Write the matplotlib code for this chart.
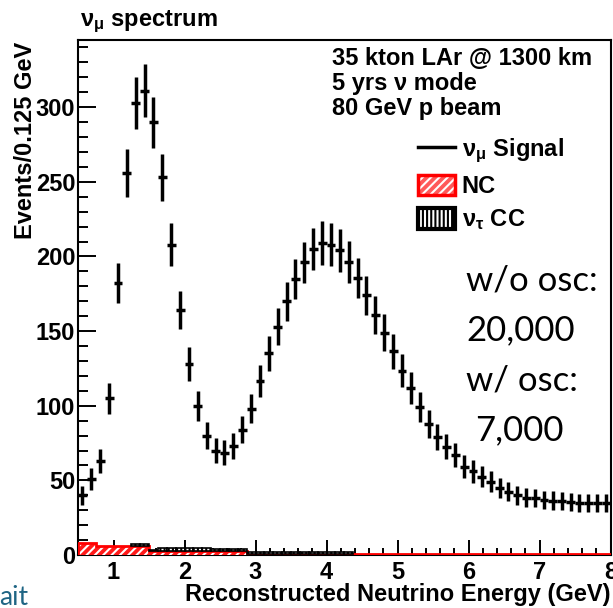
#!/usr/bin/env python3

import numpy as np
import matplotlib
matplotlib.use("Agg")
import matplotlib.pyplot as plt
from matplotlib.lines import Line2D
from matplotlib.patches import Patch


# reconstructed energy binning (GeV)
e_min, e_max, bin_width = 0.5, 8.0, 0.125

# nu_mu CC signal, events per 0.125 GeV bin
signal = [40, 51, 63, 105, 182, 256, 303, 311, 290, 253,
          208, 164, 128, 100, 80, 70, 68.5, 73, 84, 98,
          116.5, 135, 153, 170, 185, 196, 205, 209, 208, 204,
          196.5, 185.5, 174, 161, 149, 136.5, 123.5, 112, 99, 88,
          79, 72.5, 67, 59, 56, 52.5, 49, 45, 42.5, 40,
          38.5, 38, 37, 36.5, 36, 35.5, 35, 35, 35, 35]

# backgrounds
nc = [8, 8, 6, 6, 6, 6, 6, 6, 3, 3,
      3, 3, 3, 3, 3, 3, 3, 3, 3, 1,
      1, 1, 1, 1, 1, 1, 1, 1, 1, 1,
      1, 1, 1, 1, 1, 1, 1, 1, 1, 1,
      1, 1, 1, 1, 1, 1, 1, 1, 1, 1,
      1, 1, 1, 1, 1, 1, 1, 1, 1, 1]
nutau_cc = [0, 0, 0, 0, 0, 0, 1.5, 1.5, 0.5, 1.5,
            1.5, 1.5, 1.5, 1.5, 1.5, 0.8, 0.8, 0.8, 0.8, 1,
            1, 1, 1, 1, 1, 1, 1, 1, 1, 1,
            1, 0, 0, 0, 0, 0, 0, 0, 0, 0,
            0, 0, 0, 0, 0, 0, 0, 0, 0, 0,
            0, 0, 0, 0, 0, 0, 0, 0, 0, 0]

info_lines = ["35 kton LAr @ 1300 km", "5 yrs \u03bd mode", "80 GeV p beam"]
legend_labels = ["\u03bd$_{\\mathrm{\\mu}}$ Signal", "NC",
                 "\u03bd$_{\\mathrm{\\tau}}$ CC"]
osc_lines = [("w/o osc:", 466, 290), ("20,000", 466, 340),
             ("w/ osc:", 466, 390), ("7,000", 475, 440)]

W, H = 613, 608


def fx(x):
    return x / W


def fy(y):
    return 1 - y / H


plt.rcParams["font.family"] = ["Liberation Sans", "DejaVu Sans"]
plt.rcParams["font.weight"] = "bold"
plt.rcParams["mathtext.fontset"] = "custom"
plt.rcParams["mathtext.rm"] = "Liberation Sans"
plt.rcParams["mathtext.it"] = "Liberation Sans:italic"
plt.rcParams["mathtext.bf"] = "Liberation Sans:bold"
plt.rcParams["hatch.linewidth"] = 1.5

edges = np.arange(e_min, e_max + bin_width / 2, bin_width)
centers = 0.5 * (edges[:-1] + edges[1:])
signal = np.array(signal, dtype=float)
nc = np.array(nc, dtype=float)
nutau_cc = np.array(nutau_cc, dtype=float)

fig = plt.figure(figsize=(W / 100, H / 100), dpi=100)
ax = fig.add_axes([fx(78), fy(555), fx(610.5) - fx(78), fy(40) - fy(555)])

# stacked backgrounds: NC (red hatched) under nu_tau CC
ax.stairs(nc, edges, fill=True, facecolor="#ff1a1a", edgecolor="white",
          hatch="////", linewidth=0, zorder=3)
ax.stairs(nc, edges, color="red", linewidth=2, zorder=3)
mask = nutau_cc > 0
ax.bar(centers[mask], nutau_cc[mask], width=bin_width, bottom=nc[mask],
       facecolor="white", edgecolor="black", hatch="||||", linewidth=1.2,
       zorder=3)

# signal with poisson errors
ax.errorbar(centers, signal, xerr=bin_width / 2, yerr=np.sqrt(signal),
            fmt="none", ecolor="black", elinewidth=2.5, capsize=0, zorder=4)

ax.set_xlim(e_min, e_max)
ax.set_ylim(0, 345)
ax.set_xticks(range(1, 9))
ax.set_xticks(np.arange(0.6, 8.0, 0.2), minor=True)
ax.set_yticks(range(0, 301, 50))
ax.set_yticks(range(0, 341, 10), minor=True)
ax.tick_params(axis="both", which="both", direction="in", width=1.4,
               labelsize=17, top=False, right=False)
ax.tick_params(axis="y", which="major", length=13, pad=2)
ax.tick_params(axis="y", which="minor", length=7)
ax.tick_params(axis="x", which="major", length=11, pad=4)
ax.tick_params(axis="x", which="minor", length=5)
for spine in ax.spines.values():
    spine.set_linewidth(1.5)

fig.text(fx(80), fy(26), "\u03bd$_{\\mathrm{\\mu}}$ spectrum", fontsize=17,
         va="baseline", ha="left")
fig.text(fx(26), fy(42), "Events/0.125 GeV", fontsize=17, rotation=90,
         ha="center", va="top")
fig.text(fx(185), fy(601), "Reconstructed Neutrino Energy (GeV)",
         fontsize=17, ha="left", va="baseline")

for i, line in enumerate(info_lines):
    fig.text(fx(332), fy(65 + 25 * i), line, fontsize=17, ha="left",
             va="baseline")

handles = [
    Line2D([], [], color="black", linewidth=2.5),
    (Patch(facecolor="#ff5a5a", edgecolor="white", hatch="////", linewidth=0),
     Patch(facecolor="none", edgecolor="red", linewidth=2.5)),
    (Patch(facecolor="white", edgecolor="black", hatch="||||", linewidth=0),
     Patch(facecolor="none", edgecolor="black", linewidth=3)),
]
fig.legend(handles, legend_labels, loc="upper left",
           bbox_to_anchor=(fx(418), fy(137)), frameon=False, fontsize=17,
           borderpad=0, borderaxespad=0, handlelength=1.55,
           handleheight=0.95, handletextpad=0.3, labelspacing=0.4)

for text, x, y in osc_lines:
    fig.text(fx(x), fy(y), text, fontsize=25, family="Lato",
             fontweight="normal", ha="left", va="baseline")

fig.text(fx(-1), fy(605), "ait", fontsize=19, family="Lato",
         fontweight="normal", color="#1f6584", ha="left", va="baseline")

fig.savefig("out.png", dpi=100)
